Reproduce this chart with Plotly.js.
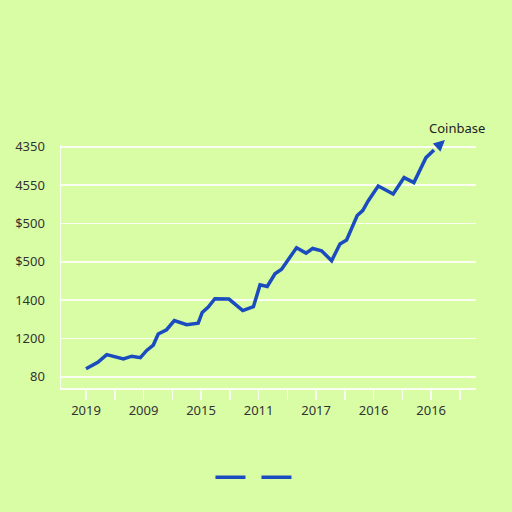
<!DOCTYPE html>
<html>
<head>
<meta charset="utf-8">
<script src="https://cdn.plot.ly/plotly-3.0.1.min.js"></script>
<style>html,body{margin:0;padding:0;background:#d9fda5;}#chart{width:512px;height:512px;}</style>
</head>
<body>
<div id="chart"></div>
<script>
// Tick labels (as printed in the reference)
var xTickVals = [0,1,2,3,4,5,6,7,8,9,10,11,12,13];
var xTickText = ['2019','','2009','','2015','','2011','','2017','','2016','','2016',''];
var yTickVals = [0,1,2,3,4,5,6];
var yTickText = ['80','1200','1400','$500','$500','4550','4350'];

// Series values (x in tick units, y in gridline units)
var seriesX = [0.00,0.41,0.72,1.01,1.30,1.59,1.89,2.11,2.34,2.51,2.80,3.07,3.50,3.90,4.04,4.25,4.48,4.97,5.45,5.82,6.05,6.30,6.57,6.80,7.03,7.32,7.65,7.88,8.19,8.54,8.83,9.06,9.43,9.62,9.81,10.16,10.68,11.06,11.40,11.82,12.10];
var seriesY = [0.21,0.38,0.58,0.53,0.47,0.54,0.50,0.69,0.83,1.12,1.23,1.47,1.36,1.40,1.68,1.82,2.04,2.03,1.73,1.83,2.40,2.36,2.69,2.81,3.05,3.37,3.23,3.35,3.29,3.03,3.47,3.57,4.21,4.34,4.59,4.98,4.77,5.20,5.07,5.72,5.92];
var arrowTip = [12.48, 6.18];
var seriesName = 'Coinbase';

var lineColor = '#1a4cbf';
var lastX = seriesX[seriesX.length-1], lastY = seriesY[seriesY.length-1];

var traces = [
  {x: seriesX, y: seriesY, type: 'scatter', mode: 'lines', name: ' ',
   line: {color: lineColor, width: 3.5}, showlegend: true},
  {x: [null], y: [null], type: 'scatter', mode: 'lines', name: ' ',
   line: {color: lineColor, width: 3.5}, showlegend: true}
];

var layout = {
  width: 512, height: 512,
  paper_bgcolor: '#d9fda5', plot_bgcolor: '#d9fda5',
  margin: {l: 61, r: 36, t: 145, b: 124},
  font: {family: 'Noto Sans, DejaVu Sans, sans-serif', size: 13, color: '#333'},
  xaxis: {
    range: [-0.87, 13.56], tickmode: 'array', tickvals: xTickVals, ticktext: xTickText,
    showgrid: false, zeroline: false, showline: true, linecolor: 'rgba(255,255,255,0.85)', linewidth: 1.5,
    ticks: 'outside', ticklen: 10, tickwidth: 1.5, tickcolor: 'rgba(255,255,255,0.85)',
    tickfont: {size: 13, color: '#333'}
  },
  yaxis: {
    range: [-0.29, 6.05], tickmode: 'array', tickvals: yTickVals, ticktext: yTickText,
    showgrid: true, gridcolor: 'rgba(255,255,255,0.85)', gridwidth: 1.5,
    zeroline: false, showline: true, linecolor: 'rgba(255,255,255,0.85)', linewidth: 1.5,
    ticks: '', ticklabelstandoff: 12, tickfont: {size: 13, color: '#333'}
  },
  showlegend: true,
  legend: {orientation: 'h', x: 0.471, xanchor: 'center', y: -0.308, yanchor: 'top',
           entrywidth: 1, entrywidthmode: 'pixels',
           bgcolor: 'rgba(0,0,0,0)', font: {size: 12}},
  annotations: [
    {x: lastX, y: lastY, xref: 'x', yref: 'y', text: seriesName, showarrow: false,
     xanchor: 'center', yanchor: 'middle', xshift: 23, yshift: 22, font: {size: 13, color: '#222'}},
    {x: arrowTip[0], y: arrowTip[1], xref: 'x', yref: 'y',
     ax: lastX, ay: lastY, axref: 'x', ayref: 'y',
     text: ' ', showarrow: true, arrowhead: 2, arrowsize: 0.75, arrowwidth: 3, arrowcolor: lineColor}
  ]
};

Plotly.newPlot('chart', traces, layout, {displayModeBar: false, staticPlot: true});
</script>
</body>
</html>
